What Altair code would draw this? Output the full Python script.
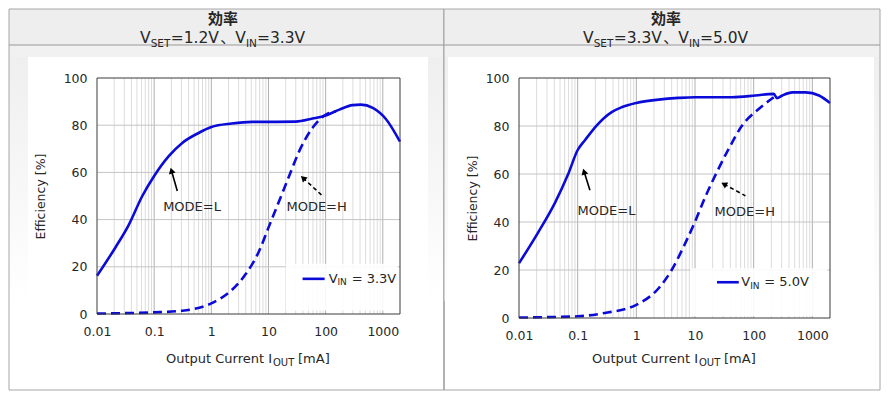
import math
import altair as alt
import pandas as pd

FONT = "DejaVu Sans"
CJK = "Noto Sans CJK JP"
BLUE = "#0b0bd9"
TXT = "#262626"

# ---------------- data ----------------
# Left panel: VSET=1.2V, VIN=3.3V
l_solid_x = [0.01, 0.021, 0.036, 0.062, 0.1, 0.18, 0.31, 0.61, 1.0, 2.27, 5.2, 10, 30, 59, 100, 174, 296, 414, 668, 1150, 2000]
l_solid_y = [16.2, 28.2, 37.8, 50.0, 58.5, 66.9, 72.5, 76.8, 79.2, 80.7, 81.4, 81.4, 81.5, 82.8, 84.1, 86.6, 88.5, 88.7, 87.3, 82.4, 73.0]
l_dash_x = [0.01, 0.1, 0.31, 1.0, 2.27, 4.0, 6.9, 10, 15.4, 23, 34.5, 59, 101, 152]
l_dash_y = [0.2, 0.7, 1.4, 4.5, 10.1, 16.9, 26.8, 36.6, 47.9, 58.5, 69.0, 78.9, 84.5, 85.9]

# Right panel: VSET=3.3V, VIN=5.0V
r_solid_x = [0.01, 0.021, 0.041, 0.069, 0.1, 0.135, 0.21, 0.38, 0.56, 1.0, 2.4, 5.2, 10, 42.6, 107, 220, 250, 307, 458, 770, 1300, 2000]
r_solid_y = [22.8, 35.5, 48.0, 60.0, 70.0, 74.3, 80.2, 85.8, 87.8, 89.6, 91.0, 91.7, 92.0, 92.0, 92.7, 93.4, 91.6, 92.7, 94.0, 94.0, 92.7, 89.6]
r_dash_x = [0.01, 0.1, 0.29, 1.0, 2.4, 4.0, 6.8, 10, 15, 23.7, 37.6, 63.5, 122, 220]
r_dash_y = [0.2, 0.7, 2.1, 5.5, 12.4, 20.0, 31.1, 40.1, 50.5, 60.9, 70.5, 80.2, 87.1, 92.0]

x_ticks = [0.01, 0.1, 1, 10, 100, 1000]
y_ticks = [0, 20, 40, 60, 80, 100]
x_major_grid = [0.1, 1, 10, 100, 1000]
x_minor_grid = [m * 10.0 ** e for e in range(-2, 4) for m in range(2, 10) if m * 10.0 ** e < 2000]
y_grid = [20, 40, 60, 80]

title_main = "効率"
left_sub = ["V", "SET", "=1.2V", "、", "V", "IN", "=3.3V"]
right_sub = ["V", "SET", "=3.3V", "、", "V", "IN", "=5.0V"]
left_legend = "= 3.3V"
right_legend = "= 5.0V"
mode_l = "MODE=L"
mode_h = "MODE=H"

XMIN, XMAX = 0.01, 2000


def one(**cols):
    return pd.DataFrame({k: [v] for k, v in cols.items()})


def rect(x1, x2, y1, y2, **kw):
    return alt.Chart(one(a=0)).mark_rect(**kw).encode(
        x=alt.value(x1), x2=alt.value(x2), y=alt.value(y1), y2=alt.value(y2))


def hrule(x1, x2, y, color="#a6a6a6"):
    return alt.Chart(one(a=0)).mark_rule(color=color, strokeWidth=1).encode(
        x=alt.value(x1), x2=alt.value(x2), y=alt.value(y))


def vrule(x, y1, y2, color="#a6a6a6"):
    return alt.Chart(one(a=0)).mark_rule(color=color, strokeWidth=1).encode(
        x=alt.value(x), y=alt.value(y1), y2=alt.value(y2))


def txt(text, x, y, size, font=FONT, weight="normal", align="left", baseline="alphabetic"):
    return alt.Chart(one(t=text)).mark_text(
        font=font, fontSize=size, fontWeight=weight, align=align, baseline=baseline, color=TXT
    ).encode(x=alt.value(x), y=alt.value(y), text="t:N")


GRAD = {"gradient": "linear", "x1": 0, "y1": 0, "x2": 0, "y2": 1,
        "stops": [{"offset": 0, "color": "#eeeeee"}, {"offset": 1, "color": "#ffffff"}]}


def panel(W, H, solid_x, solid_y, dash_x, dash_y, sub_parts, legend_text,
          legend_box, legend_line, legend_pt, lab_l, lab_h, arr_l, arr_h,
          frame_x1, frame_x2, white_x1, white_x2, center, ytitle_x, draw_divider):
    xs = alt.Scale(type="log", domain=[XMIN, XMAX], nice=False)
    ys = alt.Scale(domain=[0, 100], nice=False)
    xax = alt.Axis(values=x_ticks, format="~g", title=None, grid=False, ticks=False, tickSize=0,
                   domain=False, labelPadding=11, labelFontSize=12.5, labelFont=FONT, labelColor=TXT,
                   labelFlush=False, labelOverlap=False)
    yax = alt.Axis(values=y_ticks, title="Efficiency [%]", grid=False, ticks=False, tickSize=0,
                   domain=False, labelPadding=10, labelFontSize=12.5, labelFont=FONT, labelColor=TXT,
                   labelFlush=False, labelOverlap=False,
                   titleFont=FONT, titleFontSize=12.5, titleFontWeight="normal", titleColor=TXT,
                   titleX=ytitle_x, titleY=H / 2, titleAngle=270, titleAlign="center",
                   titleBaseline="middle")

    def X(f="x"):
        return alt.X(f + ":Q", scale=xs, axis=xax)

    def Y(f="y"):
        return alt.Y(f + ":Q", scale=ys, axis=yax)

    layers = []
    # panel decorations
    top, hdr, strip_b, bottom = -69, -33, -21, 312
    layers.append(rect(frame_x1, white_x1, hdr, 223, fill=GRAD))
    layers.append(rect(white_x2, frame_x2, hdr, 223, fill=GRAD))
    layers.append(rect(frame_x1, frame_x2, hdr, strip_b, fill="#f1f1f1"))
    layers.append(rect(frame_x1, frame_x2, top, hdr, fill="#eeeeee"))
    layers.append(rect(frame_x1, frame_x2, top, bottom, filled=False, stroke="#a6a6a6", strokeWidth=1))
    layers.append(hrule(frame_x1, frame_x2, hdr, color="#999999"))
    if draw_divider:
        layers.append(vrule(frame_x2, top, bottom))

    # grid
    layers.append(alt.Chart(pd.DataFrame({"x": x_minor_grid})).mark_rule(
        color="#dcdcdc", strokeWidth=1).encode(x=X()))
    layers.append(alt.Chart(pd.DataFrame({"x": x_major_grid})).mark_rule(
        color="#b0b0b0", strokeWidth=1).encode(x=X()))
    layers.append(alt.Chart(pd.DataFrame({"y": y_grid})).mark_rule(
        color="#c4c4c4", strokeWidth=1).encode(y=Y()))

    # legend box
    lb = pd.DataFrame({"x": [legend_box[0]], "x2": [legend_box[1]], "y": [legend_box[2]], "y2": [legend_box[3]]})
    layers.append(alt.Chart(lb).mark_rect(fill="white", opacity=0.9).encode(
        x=X(), x2="x2:Q", y=Y(), y2="y2:Q"))
    ll = pd.DataFrame({"x": legend_line[:2], "y": [legend_line[2]] * 2})
    layers.append(alt.Chart(ll).mark_line(color=BLUE, strokeWidth=2.6).encode(x=X(), y=Y()))
    for t, sz, ddx, ddy in (("V", 13, 0, 0), ("IN", 9, 8.8, 3.5), (legend_text, 13, 23, 0)):
        lp = pd.DataFrame({"x": [legend_pt[0]], "y": [legend_pt[1]], "t": [t]})
        layers.append(alt.Chart(lp).mark_text(font=FONT, fontSize=sz, align="left", baseline="middle",
                                              dx=ddx, dy=ddy, color=TXT).encode(x=X(), y=Y(), text="t:N"))

    # data lines
    ds = pd.DataFrame({"x": dash_x, "y": dash_y})
    layers.append(alt.Chart(ds).mark_line(color=BLUE, strokeWidth=2.6, strokeDash=[9, 5],
                                          interpolate="monotone").encode(x=X(), y=Y()))
    so = pd.DataFrame({"x": solid_x, "y": solid_y})
    layers.append(alt.Chart(so).mark_line(color=BLUE, strokeWidth=2.6,
                                          interpolate="monotone").encode(x=X(), y=Y()))

    # annotations
    ppd = W / math.log10(XMAX / XMIN)

    def arrow(tail, head, dashed):
        dx = (math.log10(head[0]) - math.log10(tail[0])) * ppd
        dy = -(head[1] - tail[1]) * H / 100.0
        L = math.hypot(dx, dy)
        ux, uy = dx / L, dy / L
        ang = math.degrees(math.atan2(dx, -dy)) % 360
        back = 3.0
        cx = 10 ** (math.log10(head[0]) - back * ux / ppd)
        cy = head[1] + back * uy * 100.0 / H
        seg_df = pd.DataFrame({"x": [tail[0], cx], "y": [tail[1], cy]})
        kw = {"strokeDash": [4, 3]} if dashed else {}
        ln = alt.Chart(seg_df).mark_line(color="black", strokeWidth=1.6, **kw).encode(x=X(), y=Y())
        hd = alt.Chart(pd.DataFrame({"x": [cx], "y": [cy]})).mark_point(
            shape="triangle-up", filled=True, color="black", size=48, angle=ang, opacity=1
        ).encode(x=X(), y=Y())
        return [ln, hd]

    layers += arrow(arr_l[0], arr_l[1], False)
    layers += arrow(arr_h[0], arr_h[1], True)
    for lab, t in ((lab_l, mode_l), (lab_h, mode_h)):
        layers.append(alt.Chart(pd.DataFrame({"x": [lab[0]], "y": [lab[1]], "t": [t]})).mark_text(
            font=FONT, fontSize=13, color=TXT, align="center", baseline="middle"
        ).encode(x=X(), y=Y(), text="t:N"))

    # plot frame
    layers.append(rect(0, W, 0, H, filled=False, stroke="#3a3a3a", strokeWidth=1))

    # header
    layers.append(txt(title_main, center, -59, 15, font=CJK, weight="bold", align="center", baseline="middle"))
    widths = [10.6, 20.0, 49.5, 15.2, 10.6, 11.0, 49.0]
    subs = [False, True, False, False, False, True, False]
    pos = center - sum(widths) / 2
    for part, w, s in zip(sub_parts, widths, subs):
        if s:
            layers.append(txt(part, pos, -31, 10.5))
        elif part == "、":
            layers.append(txt(part, pos, -35, 15, font=CJK))
        else:
            layers.append(txt(part, pos, -35, 15.5))
        pos += w

    # x-axis title with subscript
    xt = [("Output Current I", 13, 107.0, False), ("OUT", 10, 25.0, True), ("[mA]", 13, 30.0, False)]
    pos = W / 2 - 1.5 - sum(p[2] for p in xt) / 2
    for t, sz, w, s in xt:
        layers.append(txt(t, pos, 288 if s else 285, sz))
        pos += w

    return alt.layer(*layers).properties(width=W, height=H)


left = panel(
    W=303, H=236,
    solid_x=l_solid_x, solid_y=l_solid_y, dash_x=l_dash_x, dash_y=l_dash_y,
    sub_parts=left_sub, legend_text=left_legend,
    legend_box=(20, 1830, 1.5, 21.3), legend_line=(39.5, 96, 14.9), legend_pt=(113, 14.9),
    lab_l=(0.46, 45.5), lab_h=(69.5, 45.5),
    arr_l=((0.254, 52.1), (0.194, 62.0)), arr_h=((88.5, 50.0), (36.9, 58.5)),
    frame_x1=-88, frame_x2=347, white_x1=-69, white_x2=331, center=126,
    ytitle_x=-57, draw_divider=True)

right = panel(
    W=311, H=240,
    solid_x=r_solid_x, solid_y=r_solid_y, dash_x=r_dash_x, dash_y=r_dash_y,
    sub_parts=right_sub, legend_text=right_legend,
    legend_box=(8.3, 1800, 0.7, 20.7), legend_line=(23.7, 55.7, 14.9), legend_pt=(61.6, 14.9),
    lab_l=(0.31, 44.7), lab_h=(70.5, 44.3),
    arr_l=((0.162, 53.2), (0.124, 62.2)), arr_h=((72.4, 50.9), (28.1, 56.4)),
    frame_x1=-75, frame_x2=361, white_x1=-71, white_x2=355, center=147,
    ytitle_x=-47, draw_divider=False)

chart = alt.hconcat(left, right, spacing=119, bounds="flush").properties(
    background="white", padding=0
).configure_view(stroke=None)

chart.save("out.html", embed_options={"renderer": "svg", "actions": False})
